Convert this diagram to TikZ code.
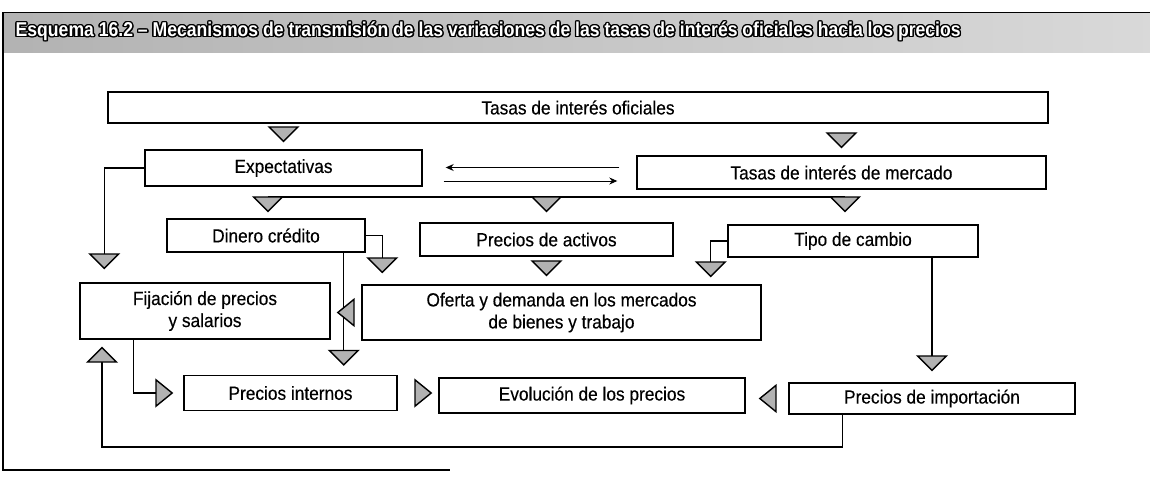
\documentclass[tikz,border=0pt]{standalone}
\usepackage{fontspec}
\setmainfont{Liberation Sans}[FakeStretch=0.91, FakeBold=0.3]
\newfontfamily\titlefont{Liberation Sans}[FakeStretch=0.88]
\usepackage[copies]{contour}
\usetikzlibrary{arrows.meta}
\contourlength{0.7pt}
\begin{document}
\begin{tikzpicture}[x=0.5pt, y=-0.5pt, line width=0.7pt,
  box/.style={draw, inner sep=1pt, align=center, font=\fontsize{9.5}{11}\selectfont},
  tridown/.style={-{Triangle[length=8pt, width=16pt, fill=gray!60]}},
  triside/.style={-{Triangle[length=9pt, width=14.5pt, fill=gray!60]}},
  doble/.style={-{Stealth[length=4pt, width=3.5pt]}, line width=0.5pt}]
  \useasboundingbox (0,0) rectangle (1150,477);
  % title bar
  \shade[left color=gray!60, right color=gray!30] (3,12) rectangle (1150,52);
  \draw[line width=0.5pt] (3,12) -- (1150,12);
  \node[anchor=west, text=white, inner sep=0pt, font=\titlefont\bfseries\fontsize{10}{12}\selectfont] (titulo) at (15,32)
    {\contour{black}{Esquema 16.2 – Mecanismos de transmisión de las variaciones de las tasas de interés oficiales hacia los precios}};
  % frame on the left and bottom
  \draw (3,12) -- (3,470) -- (450,470);
  % boxes
  \node[box, minimum width=470pt, minimum height=15.5pt] (oficiales) at (578,107.5) {Tasas de interés oficiales};
  \node[box, minimum width=138.5pt, minimum height=18pt] (expect) at (283.5,168) {Expectativas};
  \node[box, minimum width=204.5pt, minimum height=16.5pt] (mercado) at (841.5,172.5) {Tasas de interés de mercado};
  \node[box, minimum width=99pt, minimum height=16.5pt] (dinero) at (266,235.5) {Dinero crédito};
  \node[box, minimum width=126.5pt, minimum height=16.5pt] (activos) at (546.5,239.5) {Precios de activos};
  \node[box, minimum width=125pt, minimum height=16pt] (tipo) at (853,241) {Tipo de cambio};
  \node[box, minimum width=125pt, minimum height=28pt] (fijacion) at (205,311) {Fijación de precios\\y salarios};
  \node[box, minimum width=199.5pt, minimum height=27.5pt] (oferta) at (561.5,312.5) {Oferta y demanda en los mercados\\de bienes y trabajo};
  \node[box, minimum width=106.5pt, minimum height=17.5pt] (internos) at (290.5,393) {Precios internos};
  \node[box, minimum width=153pt, minimum height=17.5pt] (evolucion) at (592,395.5) {Evolución de los precios};
  \node[box, minimum width=143pt, minimum height=15.5pt] (importacion) at (932,398.5) {Precios de importación};
  % official rates feed expectations and market rates
  \draw[tridown, shorten <=2pt, shorten >=3.5pt] (oficiales.south -| expect) -- (expect.north);
  \draw[tridown, shorten <=5pt, shorten >=3.5pt] (oficiales.south -| mercado) -- (mercado.north);
  % two way link between expectations and market rates
  \draw[doble, shorten <=8.5pt, shorten >=11.5pt] ([yshift=2.5pt]mercado.west) -- ([yshift=2.5pt]mercado.west -| expect.east);
  \draw[doble, shorten <=10.5pt, shorten >=9.5pt] ([yshift=-6.5pt]expect.east) -- ([yshift=-6.5pt]expect.east -| mercado.west);
  % common line to the three channels
  \coordinate (busL) at (268,197);
  \coordinate (busR) at (845,197);
  \draw (busL) -- (busR);
  \draw[tridown, shorten >=3pt] (busL) -- (busL |- dinero.north);
  \draw[tridown, shorten >=5pt] (busL -| activos) -- (activos.north);
  \draw[tridown, shorten >=6pt] (busR) -- (busR |- tipo.north);
  % expectations to price setting
  \draw[tridown, shorten >=6.5pt] (expect.west) -| ([xshift=12.5pt]fijacion.north west);
  % channels into supply and demand
  \draw[tridown, shorten <=2.5pt, shorten >=4pt] (activos.south) -- (activos.south |- oferta.north);
  \draw[tridown, shorten >=5.5pt] (dinero.east) -| ([xshift=10.5pt]oferta.north west);
  \draw[tridown, shorten >=3.5pt] (tipo.west) -| ([xshift=-25.5pt]oferta.north east);
  % credit straight to domestic prices
  \draw[tridown, shorten >=4.5pt] ([xshift=-11pt]dinero.south east) -- ([xshift=-11pt]dinero.south east |- internos.north);
  \draw[triside, shorten <=4pt, shorten >=3pt] (oferta.west) -- (oferta.west -| fijacion.east);
  % exchange rate to import prices
  \draw[tridown, shorten >=5.5pt] (importacion.north |- tipo.south) -- (importacion.north);
  % bottom row
  \draw[triside, shorten >=5pt] ([xshift=27pt]fijacion.south west) |- (internos.west);
  \draw[triside, shorten <=9pt, shorten >=3pt] (internos.east) -- (internos.east -| evolucion.west);
  \draw[triside, shorten <=6.5pt, shorten >=6.5pt] (importacion.west) -- (importacion.west -| evolucion.east);
  % feedback from import prices to price setting
  \coordinate (vuelta) at (102,447);
  \draw[tridown, shorten >=3.5pt] ([xshift=27pt]importacion.south west) |- (vuelta) -- (vuelta |- fijacion.south);
\end{tikzpicture}
\end{document}
